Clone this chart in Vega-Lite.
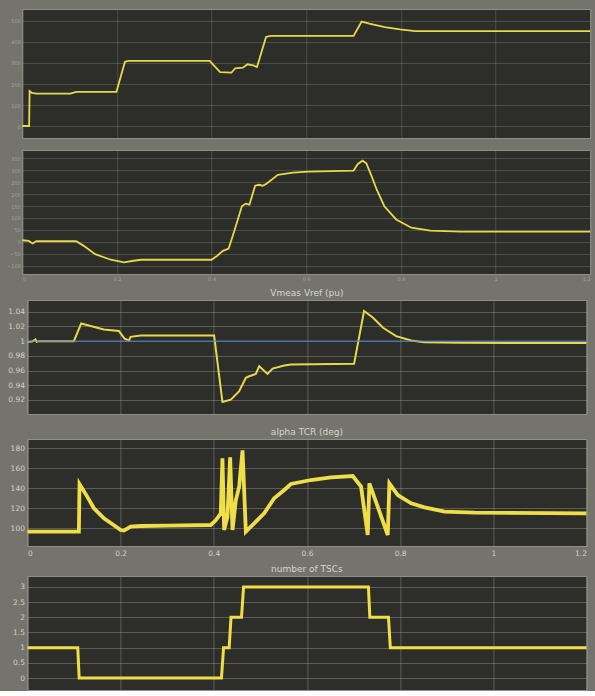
{
  "$schema": "https://vega.github.io/schema/vega-lite/v6.json",
  "background": "#74736c",
  "padding": {"left": 0, "top": 8, "right": 0, "bottom": 0},
  "config": {
    "view": {"fill": "#2d2d2a", "stroke": "#8f8e88", "strokeWidth": 1},
    "axis": {"gridColor": "#b0b0aa", "gridOpacity": 0.45, "gridWidth": 0.8, "ticks": false, "domain": false, "labelColor": "#d2d2cd", "labelFont": "DejaVu Sans", "title": null},
    "title": {"color": "#d6d6d1", "font": "DejaVu Sans", "fontSize": 9, "fontWeight": "normal", "anchor": "middle", "offset": 2.5},
    "line": {"color": "#e8d94a", "clip": true}
  },
  "datasets": {
    "p1": [
      {"t": 0, "v": 0}, {"t": 0.0145, "v": 0}, {"t": 0.0155, "v": 166}, {"t": 0.02, "v": 158}, {"t": 0.03, "v": 154},
      {"t": 0.102, "v": 154}, {"t": 0.114, "v": 163}, {"t": 0.199, "v": 163}, {"t": 0.217, "v": 306}, {"t": 0.225, "v": 310},
      {"t": 0.396, "v": 310}, {"t": 0.418, "v": 257}, {"t": 0.442, "v": 254}, {"t": 0.45, "v": 275}, {"t": 0.466, "v": 278},
      {"t": 0.476, "v": 294}, {"t": 0.488, "v": 289}, {"t": 0.496, "v": 281}, {"t": 0.515, "v": 424}, {"t": 0.525, "v": 429},
      {"t": 0.7, "v": 429}, {"t": 0.717, "v": 497}, {"t": 0.733, "v": 487}, {"t": 0.766, "v": 471}, {"t": 0.798, "v": 460},
      {"t": 0.83, "v": 452}, {"t": 1.2, "v": 452}
    ],
    "p2": [
      {"t": 0, "v": 6.5}, {"t": 0.0137, "v": 3.7}, {"t": 0.0217, "v": -7.3}, {"t": 0.0297, "v": 2.4}, {"t": 0.114, "v": 2.4},
      {"t": 0.13, "v": -17}, {"t": 0.154, "v": -51.7}, {"t": 0.187, "v": -75.2}, {"t": 0.215, "v": -86.3}, {"t": 0.235, "v": -79.4},
      {"t": 0.251, "v": -75.2}, {"t": 0.4, "v": -75.2}, {"t": 0.412, "v": -58.6}, {"t": 0.424, "v": -37.8}, {"t": 0.436, "v": -28.1},
      {"t": 0.448, "v": 45.3}, {"t": 0.464, "v": 149.2}, {"t": 0.472, "v": 160.2}, {"t": 0.48, "v": 156.1}, {"t": 0.492, "v": 235.1},
      {"t": 0.5, "v": 239.2}, {"t": 0.508, "v": 235.1}, {"t": 0.516, "v": 243.4}, {"t": 0.54, "v": 280.7}, {"t": 0.572, "v": 290.4},
      {"t": 0.605, "v": 294.6}, {"t": 0.7, "v": 298.8}, {"t": 0.709, "v": 326.5}, {"t": 0.719, "v": 340.3}, {"t": 0.727, "v": 329.2},
      {"t": 0.737, "v": 280.7}, {"t": 0.749, "v": 218.4}, {"t": 0.765, "v": 149.2}, {"t": 0.79, "v": 93.8}, {"t": 0.822, "v": 59.1},
      {"t": 0.862, "v": 46.7}, {"t": 0.926, "v": 42.5}, {"t": 1.2, "v": 42.5}
    ],
    "p3": [
      {"t": 0, "v": 0.9991}, {"t": 0.01, "v": 0.9995}, {"t": 0.0172, "v": 1.0023}, {"t": 0.02, "v": 0.999}, {"t": 0.0244, "v": 1.0},
      {"t": 0.0996, "v": 1.0}, {"t": 0.1154, "v": 1.0241}, {"t": 0.1355, "v": 1.0205}, {"t": 0.1641, "v": 1.0159}, {"t": 0.1964, "v": 1.0137},
      {"t": 0.2086, "v": 1.0032}, {"t": 0.2179, "v": 1.0009}, {"t": 0.2215, "v": 1.0059}, {"t": 0.243, "v": 1.0077}, {"t": 0.4007, "v": 1.0077},
      {"t": 0.4186, "v": 0.9172}, {"t": 0.4366, "v": 0.9204}, {"t": 0.4545, "v": 0.9318}, {"t": 0.4688, "v": 0.95}, {"t": 0.476, "v": 0.9522},
      {"t": 0.4903, "v": 0.9554}, {"t": 0.4975, "v": 0.9659}, {"t": 0.5154, "v": 0.9554}, {"t": 0.5262, "v": 0.9627}, {"t": 0.5513, "v": 0.9668},
      {"t": 0.5656, "v": 0.9682}, {"t": 0.7011, "v": 0.9691}, {"t": 0.7226, "v": 1.041}, {"t": 0.7419, "v": 1.0319}, {"t": 0.7634, "v": 1.0182},
      {"t": 0.7914, "v": 1.0068}, {"t": 0.8237, "v": 1.0009}, {"t": 0.8516, "v": 0.9986}, {"t": 0.9247, "v": 0.9977}, {"t": 1.2, "v": 0.9973}
    ],
    "ref": [{"t": 0, "v": 1}, {"t": 1.2, "v": 1}],
    "p4": [
      {"t": 0, "v": 96.7}, {"t": 0.1104, "v": 96.7}, {"t": 0.1118, "v": 144.3}, {"t": 0.1283, "v": 131.7}, {"t": 0.1427, "v": 120},
      {"t": 0.1642, "v": 110}, {"t": 0.1857, "v": 103}, {"t": 0.2, "v": 98.3}, {"t": 0.2072, "v": 97.7}, {"t": 0.2215, "v": 101.7},
      {"t": 0.243, "v": 102.3}, {"t": 0.3004, "v": 102.7}, {"t": 0.3935, "v": 103.3}, {"t": 0.4043, "v": 108}, {"t": 0.415, "v": 115},
      {"t": 0.4186, "v": 170}, {"t": 0.4222, "v": 98.3}, {"t": 0.4294, "v": 111.7}, {"t": 0.4351, "v": 171}, {"t": 0.4402, "v": 98.3},
      {"t": 0.4473, "v": 128}, {"t": 0.4545, "v": 141.7}, {"t": 0.4617, "v": 178}, {"t": 0.4688, "v": 96.7}, {"t": 0.4867, "v": 105},
      {"t": 0.5082, "v": 115}, {"t": 0.5297, "v": 130}, {"t": 0.5512, "v": 138.3}, {"t": 0.5656, "v": 144.3}, {"t": 0.6086, "v": 148.3},
      {"t": 0.6516, "v": 151}, {"t": 0.6983, "v": 152.3}, {"t": 0.7161, "v": 141.7}, {"t": 0.7305, "v": 93.3}, {"t": 0.734, "v": 145},
      {"t": 0.7735, "v": 93.3}, {"t": 0.777, "v": 145}, {"t": 0.795, "v": 133.3}, {"t": 0.8237, "v": 125}, {"t": 0.8523, "v": 121},
      {"t": 0.8953, "v": 116.7}, {"t": 0.9598, "v": 115.7}, {"t": 1.2, "v": 115}
    ],
    "p5": [
      {"t": 0, "v": 1}, {"t": 0.108, "v": 1}, {"t": 0.111, "v": 0}, {"t": 0.4165, "v": 0}, {"t": 0.421, "v": 1},
      {"t": 0.433, "v": 1}, {"t": 0.437, "v": 2}, {"t": 0.4595, "v": 2}, {"t": 0.464, "v": 3}, {"t": 0.732, "v": 3},
      {"t": 0.735, "v": 2}, {"t": 0.775, "v": 2}, {"t": 0.779, "v": 1}, {"t": 1.2, "v": 1}
    ]
  },
  "spacing": 6,
  "center": true,
  "vconcat": [
    {
      "spacing": 10,
      "vconcat": [
        {
          "width": 568, "height": 129,
          "data": {"name": "p1"},
          "encoding": {
            "x": {"field": "t", "type": "quantitative", "scale": {"domain": [0, 1.2], "nice": false},
                  "axis": {"values": [0, 0.2, 0.4, 0.6, 0.8, 1, 1.2], "labels": false, "grid": true, "gridOpacity": 0.3}}
          },
          "layer": [
            {
              "mark": {"type": "line", "strokeWidth": 1.8},
              "encoding": {
                "y": {"field": "v", "type": "quantitative", "scale": {"domain": [-57, 557], "nice": false, "zero": false},
                      "axis": {"values": [0, 100, 200, 300, 400, 500], "labelFontSize": 5, "labelColor": "#a3a29c", "labelPadding": 2, "minExtent": 16, "gridOpacity": 0.3}}
              }
            },
            {
              "mark": {"type": "line", "strokeWidth": 1, "opacity": 0},
              "encoding": {
                "y": {"field": "v", "type": "quantitative", "scale": {"domain": [-57, 557], "nice": false, "zero": false},
                      "axis": {"orient": "right", "labels": false, "grid": false, "minExtent": 9, "maxExtent": 9}}
              }
            }
          ],
          "resolve": {"axis": {"y": "independent"}}
        },
        {
          "width": 568, "height": 124,
          "data": {"name": "p2"},
          "mark": {"type": "line", "strokeWidth": 1.8},
          "encoding": {
            "x": {"field": "t", "type": "quantitative", "scale": {"domain": [0, 1.2], "nice": false},
                  "axis": {"values": [0, 0.2, 0.4, 0.6, 0.8, 1, 1.2], "format": "~g", "labelFontSize": 5, "labelColor": "#a3a29c", "labelPadding": 2, "grid": true, "gridOpacity": 0.3}},
            "y": {"field": "v", "type": "quantitative", "scale": {"domain": [-135, 385], "nice": false, "zero": false},
                  "axis": {"values": [-100, -50, 0, 50, 100, 150, 200, 250, 300, 350], "labelFontSize": 5, "labelColor": "#a3a29c", "labelPadding": 2, "minExtent": 16, "gridOpacity": 0.3}}
          }
        }
      ]
    },
    {
      "spacing": 7,
      "vconcat": [
        {
          "width": 559, "height": 114,
          "title": "Vmeas Vref (pu)",
          "encoding": {
            "x": {"field": "t", "type": "quantitative", "scale": {"domain": [0, 1.2], "nice": false},
                  "axis": {"values": [0, 0.2, 0.4, 0.6, 0.8, 1, 1.2], "labels": false, "grid": true, "minExtent": 5}},
            "y": {"field": "v", "type": "quantitative", "scale": {"domain": [0.9008, 1.056], "nice": false, "zero": false},
                  "axis": {"values": [0.92, 0.94, 0.96, 0.98, 1, 1.02, 1.04], "format": "~g", "labelFontSize": 7.5, "labelPadding": 3, "minExtent": 26}}
          },
          "layer": [
            {"data": {"name": "p3"}, "mark": {"type": "line", "strokeWidth": 2}},
            {"data": {"name": "ref"}, "mark": {"type": "line", "strokeWidth": 1.2, "color": "#4f7fc8", "opacity": 0.85}}
          ]
        },
        {
          "width": 559, "height": 107,
          "title": "alpha TCR (deg)",
          "data": {"name": "p4"},
          "mark": {"type": "line", "strokeWidth": 3.8, "color": "#f0de48"},
          "encoding": {
            "x": {"field": "t", "type": "quantitative", "scale": {"domain": [0, 1.2], "nice": false},
                  "axis": {"values": [0, 0.2, 0.4, 0.6, 0.8, 1, 1.2], "format": "~g", "labelFontSize": 7.5, "labelPadding": 3, "labelFlush": true, "grid": true}},
            "y": {"field": "v", "type": "quantitative", "scale": {"domain": [82.3, 189.3], "nice": false, "zero": false},
                  "axis": {"values": [100, 120, 140, 160, 180], "labelFontSize": 7.5, "labelPadding": 3, "minExtent": 26}}
          }
        },
        {
          "width": 559, "height": 114,
          "title": {"text": "number of TSCs", "offset": 2.5},
          "data": {"name": "p5"},
          "mark": {"type": "line", "strokeWidth": 3, "color": "#f0de48"},
          "encoding": {
            "x": {"field": "t", "type": "quantitative", "scale": {"domain": [0, 1.2], "nice": false},
                  "axis": {"values": [0, 0.2, 0.4, 0.6, 0.8, 1, 1.2], "labels": false, "grid": true}},
            "y": {"field": "v", "type": "quantitative", "scale": {"domain": [-0.394, 3.361], "nice": false, "zero": false},
                  "axis": {"values": [0, 0.5, 1, 1.5, 2, 2.5, 3], "format": "~g", "labelFontSize": 7.5, "labelPadding": 3, "minExtent": 26}}
          }
        }
      ]
    }
  ]
}
